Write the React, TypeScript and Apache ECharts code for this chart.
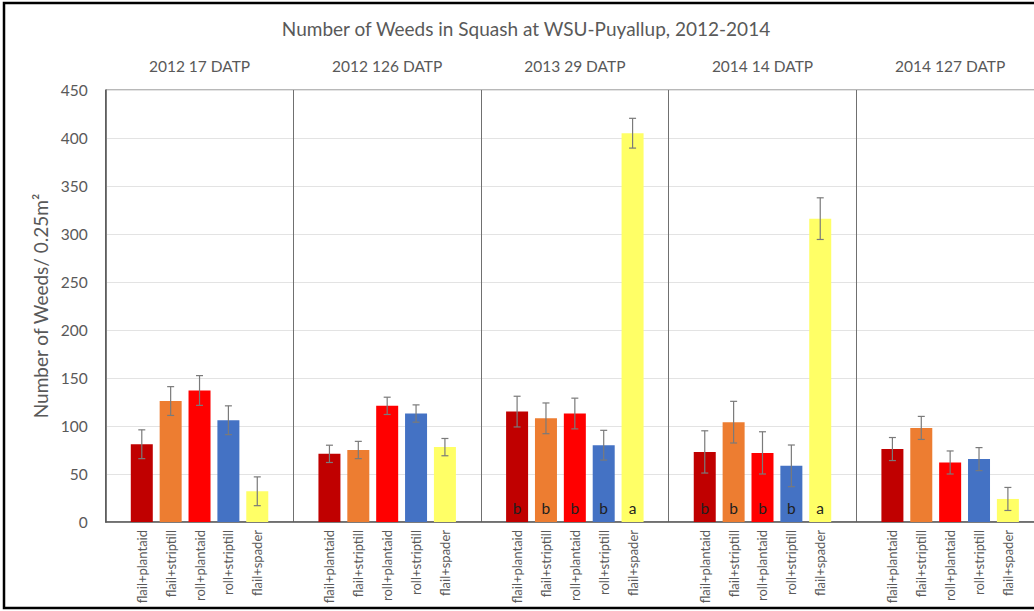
import React, { useEffect, useRef } from "react";
import * as echarts from "echarts";

// Treatments shown in every panel, left to right
const treatments = ["flail+plantaid", "flail+striptill", "roll+plantaid", "roll+striptill", "flail+spader"];
const panelTitles = ["2012 17 DATP", "2012 126 DATP", "2013 29 DATP", "2014 14 DATP", "2014 127 DATP"];
const barColors = ["#C00000", "#ED7D31", "#FF0000", "#4472C4", "#FFFF66"];

// Mean weeds per 0.25 m² and standard error, one pair of arrays per sampling date
const mean2012d17 = [81, 126, 137, 106, 32];
const err2012d17 = [15, 15, 15.5, 15, 15];
const mean2012d126 = [71, 75, 121, 113, 78];
const err2012d126 = [9, 9, 9, 9, 9];
const mean2013d29 = [115, 108, 113, 80, 405];
const err2013d29 = [16, 16, 16, 15.5, 15.5];
const mean2014d14 = [73, 104, 72, 58.5, 316];
const err2014d14 = [22, 21.7, 22, 21.7, 21.7];
const mean2014d127 = [76, 98, 62, 65.5, 24];
const err2014d127 = [12, 12, 12, 12, 12];

// Mean-separation letters (empty where none were reported)
const letters2013d29 = ["b", "b", "b", "b", "a"];
const letters2014d14 = ["b", "b", "b", "b", "a"];
const noLetters = ["", "", "", "", ""];

const yTicks = { min: 0, max: 450, interval: 50 };

const panelMeans = [mean2012d17, mean2012d126, mean2013d29, mean2014d14, mean2014d127];
const panelErrs = [err2012d17, err2012d126, err2013d29, err2014d14, err2014d127];
const panelLetters = [noLetters, noLetters, letters2013d29, letters2014d14, noLetters];

// Layout (pixels)
const PLOT_LEFT = 105.7;
const PLOT_TOP = 90;
const PLOT_HEIGHT = 432;
const BAND = 28.87;
const BANDS_PER_PANEL = 6.5;
const PANEL_W = BAND * BANDS_PER_PANEL;
const TEXT = "#595959";
const FONT = "Lato, 'Open Sans', sans-serif";

export default function App() {
  const ref = useRef<HTMLDivElement>(null);

  useEffect(() => {
    if (!ref.current) return;
    const chart = echarts.init(ref.current, null, { renderer: "svg" });

    // Full plot frame: y axis, gridlines and the panel separators; it runs past the right edge
    const grids: any[] = [
      {
        left: PLOT_LEFT,
        top: PLOT_TOP,
        width: PANEL_W * 5,
        height: PLOT_HEIGHT,
        show: true,
        borderColor: "#707070",
        borderWidth: 1,
        containLabel: false,
        outerBoundsMode: "none",
      },
    ];
    const xAxes: any[] = [
      {
        gridIndex: 0,
        type: "value",
        min: 0,
        max: BANDS_PER_PANEL * 5,
        interval: BANDS_PER_PANEL,
        axisLabel: { show: false },
        axisTick: { show: false },
        axisLine: { show: true, lineStyle: { color: "#595959", width: 1.5 } },
        splitLine: { show: true, lineStyle: { color: "#707070", width: 1 } },
      },
    ];
    const yAxes: any[] = [
      {
        gridIndex: 0,
        type: "value",
        ...yTicks,
        name: "Number of Weeds/ 0.25m²",
        nameLocation: "middle",
        nameGap: 53,
        nameTextStyle: { color: TEXT, fontSize: 19, fontFamily: FONT },
        axisLine: { show: true, lineStyle: { color: "#595959", width: 1.5 } },
        axisTick: { show: false },
        axisLabel: { color: TEXT, fontSize: 15.5, fontFamily: FONT, margin: 18 },
        splitLine: { show: true, lineStyle: { color: "#e3e3e3", width: 1 } },
      },
    ];
    const series: any[] = [];
    const titles: any[] = [
      {
        text: "Number of Weeds in Squash at WSU-Puyallup, 2012-2014",
        left: 526,
        top: 19,
        textAlign: "center",
        padding: 0,
        textStyle: { color: TEXT, fontSize: 19, fontWeight: "normal", fontFamily: FONT },
      },
    ];

    panelTitles.forEach((title, p) => {
      const gi = p + 1;
      const panelLeft = PLOT_LEFT + p * PANEL_W;
      titles.push({
        text: title,
        left: panelLeft + PANEL_W / 2,
        top: 58,
        textAlign: "center",
        padding: 0,
        textStyle: { color: TEXT, fontSize: 15.5, fontWeight: "normal", fontFamily: FONT },
      });
      grids.push({
        left: panelLeft + (BANDS_PER_PANEL - 5) / 2 * BAND,
        top: PLOT_TOP,
        width: BAND * 5,
        height: PLOT_HEIGHT,
        outerBoundsMode: "none",
      });
      xAxes.push({
        gridIndex: gi,
        type: "category",
        data: treatments,
        axisLine: { show: false },
        axisTick: { show: false },
        axisLabel: {
          rotate: 90,
          interval: 0,
          margin: 8,
          color: TEXT,
          fontSize: 13,
          fontFamily: FONT,
        },
        splitLine: { show: false },
      });
      yAxes.push({
        gridIndex: gi,
        type: "value",
        ...yTicks,
        show: false,
        splitLine: { show: false },
      });

      const means = panelMeans[p];
      const errs = panelErrs[p];
      const letters = panelLetters[p];
      series.push({
        type: "bar",
        xAxisIndex: gi,
        yAxisIndex: gi,
        barWidth: 22,
        data: means.map((v, i) => ({
          value: v,
          itemStyle: { color: barColors[i] },
          label: {
            show: letters[i] !== "",
            formatter: letters[i],
            position: "insideBottom",
            distance: 6,
            color: "#1f1f1f",
            fontSize: 15.5,
            fontFamily: FONT,
          },
        })),
      });
      series.push({
        type: "custom",
        xAxisIndex: gi,
        yAxisIndex: gi,
        z: 5,
        data: means.map((v, i) => [i, v - errs[i], v + errs[i]]),
        renderItem: (_params: any, api: any) => {
          const lo = api.coord([api.value(0), api.value(1)]);
          const hi = api.coord([api.value(0), api.value(2)]);
          const half = 3.5;
          const style = { stroke: "#7a7a7a", lineWidth: 1.2 };
          return {
            type: "group",
            children: [
              { type: "line", shape: { x1: hi[0], y1: hi[1], x2: lo[0], y2: lo[1] }, style },
              { type: "line", shape: { x1: hi[0] - half, y1: hi[1], x2: hi[0] + half, y2: hi[1] }, style },
              { type: "line", shape: { x1: lo[0] - half, y1: lo[1], x2: lo[0] + half, y2: lo[1] }, style },
            ],
          };
        },
      });
    });

    chart.setOption({
      animation: false,
      backgroundColor: "#ffffff",
      textStyle: { fontFamily: FONT },
      title: titles,
      grid: grids,
      xAxis: xAxes,
      yAxis: yAxes,
      series,
      graphic: [
        {
          type: "rect",
          shape: { x: 4, y: 3, width: 1100, height: 605 },
          style: { fill: "none", stroke: "#000000", lineWidth: 2.5 },
          silent: true,
          z: 100,
        },
      ],
    });

    return () => chart.dispose();
  }, []);

  return (
    <div
      ref={ref}
      style={{ position: "fixed", left: 0, top: 0, width: 1034, height: 611, background: "#fff" }}
    />
  );
}
